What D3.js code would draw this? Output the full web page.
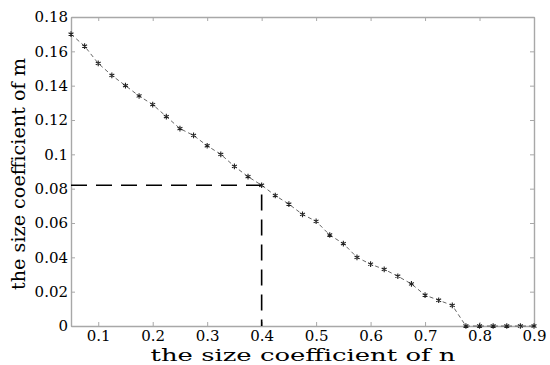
<!DOCTYPE html>
<html>
<head>
<script src="https://d3js.org/d3.v7.min.js"></script>
<style>
  body { margin: 0; padding: 0; background: #fff; }
</style>
</head>
<body>
<script>
  // n coefficient (x) and m coefficient (y)
  var nValues = [0.05, 0.075, 0.1, 0.125, 0.15, 0.175, 0.2, 0.225, 0.25, 0.275,
                 0.3, 0.325, 0.35, 0.375, 0.4, 0.425, 0.45, 0.475, 0.5, 0.525,
                 0.55, 0.575, 0.6, 0.625, 0.65, 0.675, 0.7, 0.725, 0.75, 0.775,
                 0.8, 0.825, 0.85, 0.875, 0.9];
  var mValues = [0.170, 0.163, 0.153, 0.146, 0.140, 0.134, 0.129, 0.122, 0.115, 0.111,
                 0.105, 0.100, 0.093, 0.087, 0.082, 0.076, 0.071, 0.065, 0.061, 0.053,
                 0.048, 0.040, 0.036, 0.033, 0.029, 0.0245, 0.018, 0.015, 0.012, 0,
                 0, 0, 0, 0, 0];
  var xTicks = [0.1, 0.2, 0.3, 0.4, 0.5, 0.6, 0.7, 0.8, 0.9];
  var yTicks = [0, 0.02, 0.04, 0.06, 0.08, 0.1, 0.12, 0.14, 0.16, 0.18];
  var marked = [0.4, 0.082];

  var width = 550, height = 365;
  var margin = {left: 71, right: 16, top: 17, bottom: 39};
  var serif = "'DejaVu Serif', 'Liberation Serif', serif";

  var svg = d3.select("body").append("svg")
      .attr("width", width)
      .attr("height", height);

  var x = d3.scaleLinear().domain([0.05, 0.9]).range([margin.left, width - margin.right]);
  var y = d3.scaleLinear().domain([0, 0.18]).range([height - margin.bottom, margin.top]);

  var data = nValues.map((n, i) => ({n: n, m: mValues[i]}));
  var axisColor = "#a8a8a8";

  // box with inward ticks on all sides
  function styleAxis(g) {
    g.attr("font-family", serif).attr("font-size", 15);
    g.select(".domain").attr("stroke", axisColor).attr("stroke-width", 1.4);
    g.selectAll(".tick line").attr("stroke", axisColor);
    g.selectAll(".tick text").attr("fill", "#000");
  }
  var axBottom = svg.append("g")
      .attr("transform", "translate(0," + y(0) + ")")
      .call(d3.axisBottom(x).tickValues(xTicks).tickSizeInner(-4).tickSizeOuter(0)
        .tickPadding(4).tickFormat(d3.format("")));
  styleAxis(axBottom);

  var axLeft = svg.append("g")
      .attr("transform", "translate(" + x(0.05) + ",0)")
      .call(d3.axisLeft(y).tickValues(yTicks).tickSizeInner(-4).tickSizeOuter(0)
        .tickPadding(3).tickFormat(d3.format("")));
  styleAxis(axLeft);

  var axTop = svg.append("g")
      .attr("transform", "translate(0," + y(0.18) + ")")
      .call(d3.axisTop(x).tickValues(xTicks).tickSizeInner(-4).tickSizeOuter(0).tickFormat(""));
  styleAxis(axTop);

  var axRight = svg.append("g")
      .attr("transform", "translate(" + x(0.9) + ",0)")
      .call(d3.axisRight(y).tickValues(yTicks).tickSizeInner(-4).tickSizeOuter(0).tickFormat(""));
  styleAxis(axRight);

  // reference lines at n = 0.4
  svg.append("path")
      .attr("d", d3.line()([[x(0.05), y(marked[1])], [x(marked[0]), y(marked[1])], [x(marked[0]), y(0)]]))
      .attr("fill", "none")
      .attr("stroke", "#000")
      .attr("stroke-width", 1.6)
      .attr("stroke-dasharray", "16,9");

  // series
  var line = d3.line().x(d => x(d.n)).y(d => y(d.m));
  svg.append("path")
      .datum(data)
      .attr("d", line)
      .attr("fill", "none")
      .attr("stroke", "#555")
      .attr("stroke-width", 0.9)
      .attr("stroke-dasharray", "4,3");

  var star = d3.symbol().type(d3.symbolAsterisk).size(22);
  svg.append("g").selectAll("path")
      .data(data)
      .join("path")
      .attr("transform", d => "translate(" + x(d.n) + "," + y(d.m) + ")")
      .attr("d", star)
      .attr("fill", "none")
      .attr("stroke", "#222")
      .attr("stroke-width", 1.1);

  // axis titles
  svg.append("text")
      .attr("x", 303)
      .attr("y", 361)
      .attr("text-anchor", "middle")
      .attr("font-family", serif)
      .attr("font-size", 17)
      .attr("textLength", 305)
      .attr("lengthAdjust", "spacingAndGlyphs")
      .text("the size coefficient of n");

  svg.append("text")
      .attr("transform", "translate(25,174) rotate(-90)")
      .attr("text-anchor", "middle")
      .attr("font-family", serif)
      .attr("font-size", 18)
      .attr("textLength", 232)
      .attr("lengthAdjust", "spacingAndGlyphs")
      .text("the size coefficient of m");
</script>
</body>
</html>
